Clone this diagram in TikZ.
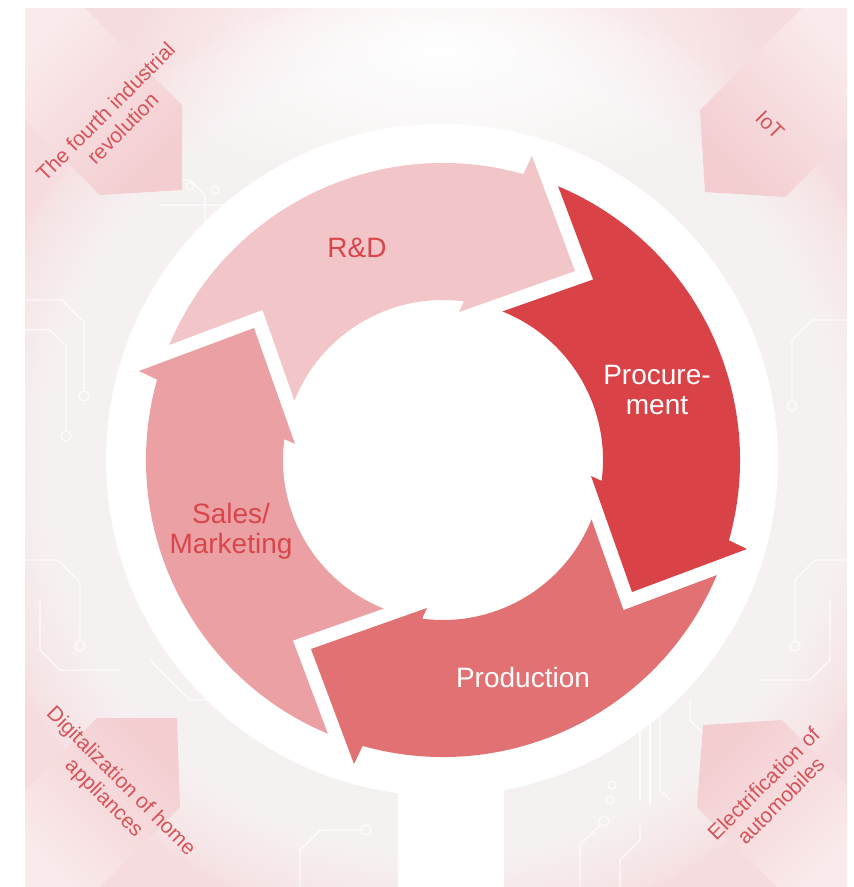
\documentclass[tikz,border=0pt]{standalone}
\usepackage{fontspec}
\setmainfont{Liberation Sans}
\usetikzlibrary{fadings}
\tikzfading[name=softglow, inner color=transparent!0, outer color=transparent!100]
\definecolor{bgpink}{RGB}{246,220,222}
\definecolor{tagpink}{RGB}{243,205,208}
\definecolor{taglight}{RGB}{250,234,235}
\definecolor{rdcol}{RGB}{242,198,200}
\definecolor{proccol}{RGB}{217,67,72}
\definecolor{prodcol}{RGB}{225,113,115}
\definecolor{salescol}{RGB}{235,160,164}
\definecolor{labred}{RGB}{216,70,76}
\definecolor{tagtext}{RGB}{212,84,90}
\begin{document}
\begin{tikzpicture}[x=1pt,y=1pt,
  cornerlbl/.style={text=tagtext, align=center, font=\fontsize{21}{24}\selectfont, inner sep=0pt},
  ringlbl/.style={align=center, font=\fontsize{28}{30}\selectfont, inner sep=0pt},
  halo/.style={fill=white, fill opacity=0.07},
  trace/.style={draw=white, line width=1.2pt, opacity=0.8},
  pad/.style={draw=white, line width=1.2pt, opacity=0.8, fill=none}]
\useasboundingbox (0,0) rectangle (854,-887);
\fill[white] (0,0) rectangle (854,-887);

% background panel: pale pink, whitening smoothly towards the cycle
\begin{scope}
  \clip (25,-8) rectangle (847,-887);
  \fill[bgpink] (25,-8) rectangle (847,-887);
  \foreach \r in {340,345,...,480} {
    \fill[halo] (442,-460) circle (\r);
  }
  \fill[white, path fading=softglow] (442,-50) ellipse (330 and 150);
  % faint circuit traces
  \draw[trace] (150,-180) -- (190,-180) -- (205,-195) -- (205,-230);
  \draw[pad] (190,-186) circle (4);
  \draw[trace] (160,-205) -- (225,-205) -- (245,-225);
  \draw[pad] (215,-190) circle (4);
  \draw[trace] (25,-300) -- (62,-300) -- (84,-322) -- (84,-390);
  \draw[pad] (84,-396) circle (5);
  \draw[trace] (25,-330) -- (50,-330) -- (66,-346) -- (66,-430);
  \draw[pad] (66,-436) circle (5);
  \draw[trace] (25,-560) -- (58,-560) -- (80,-582) -- (80,-640);
  \draw[pad] (80,-646) circle (5);
  \draw[trace] (40,-600) -- (40,-650) -- (60,-670) -- (120,-670);
  \draw[trace] (150,-660) -- (190,-700) -- (240,-700) -- (260,-720);
  \draw[pad] (255,-690) circle (4);
  \draw[trace] (847,-320) -- (812,-320) -- (792,-340) -- (792,-400);
  \draw[pad] (792,-406) circle (5);
  \draw[trace] (847,-560) -- (815,-560) -- (795,-580) -- (795,-640);
  \draw[pad] (795,-646) circle (5);
  \draw[trace] (830,-600) -- (830,-660) -- (810,-680) -- (760,-680);
  \draw[trace] (640,-720) -- (640,-800);
  \draw[trace] (650,-715) -- (650,-805);
  \draw[trace] (660,-710) -- (660,-790) -- (670,-800);
  \draw[pad] (612,-785) circle (4);
  \draw[pad] (610,-800) circle (4);
  \draw[trace] (690,-700) -- (690,-720) -- (705,-735);
  \draw[trace] (300,-887) -- (300,-850) -- (320,-830) -- (360,-830);
  \draw[pad] (366,-830) circle (5);
  \draw[trace] (580,-887) -- (580,-845) -- (600,-825);
  \draw[pad] (604,-821) circle (5);
  \draw[trace] (620,-887) -- (620,-860) -- (640,-840) -- (640,-825);

  % corner tags pointing at the cycle
  \shade[top color=taglight, bottom color=tagpink, shading angle=45]
    (182,-105) -- (182,-190) -- (100,-195) -- (25,-120) -- (25,-8) -- (85,-8) -- cycle;
  \shade[top color=taglight, bottom color=tagpink, shading angle=-45]
    (700,-110) -- (705,-192) -- (785,-197) -- (847,-135) -- (847,-8) -- (802,-8) -- cycle;
  \shade[top color=taglight, bottom color=tagpink, shading angle=135]
    (97,-718) -- (177,-718) -- (180,-807) -- (100,-887) -- (25,-887) -- (25,-790) -- cycle;
  \shade[top color=taglight, bottom color=tagpink, shading angle=-135]
    (703,-725) -- (782,-720) -- (847,-785) -- (847,-887) -- (777,-887) -- (697,-807) -- cycle;
\end{scope}

\node[cornerlbl, rotate=45] (revolution) at (114,-120) {The fourth industrial\\revolution};
\node[cornerlbl, rotate=-45] (iot) at (770,-125) {IoT};
\node[cornerlbl, rotate=-45] (homeapp) at (112,-790) {Digitalization of home\\appliances};
\node[cornerlbl, rotate=45] (autos) at (772,-792) {Electrification of\\automobiles};

% white disc with its stem
\fill[white] (442,-460) circle (336);
\fill[white] (398,-700) rectangle (504,-887);

% one cycle arrow, drawn in the frame of the right-hand arrow and rotated
\def\cyclearrow{(67.2:297) arc[start angle=67.2, end angle=-15.7, radius=297]
  -- (304,-89) -- (189,-132) -- (148,-16)
  -- (-7.5:160) arc[start angle=-7.5, end angle=68.2, radius=160]
  -- (150.1,180.5) -- cycle}
\begin{scope}[shift={(443,-460)}]
  \fill[proccol] \cyclearrow;
  \fill[rdcol, rotate=90] \cyclearrow;
  \fill[salescol, rotate=180] \cyclearrow;
  \fill[prodcol, rotate=270] \cyclearrow;
\end{scope}

\node[ringlbl, text=labred] (rd) at (357,-248) {R\&D};
\node[ringlbl, text=white] (proc) at (657,-390) {Procure-\\ment};
\node[ringlbl, text=white] (prod) at (523,-677) {Production};
\node[ringlbl, text=labred] (sales) at (231,-531) {Sales/\\Marketing};
\end{tikzpicture}
\end{document}
